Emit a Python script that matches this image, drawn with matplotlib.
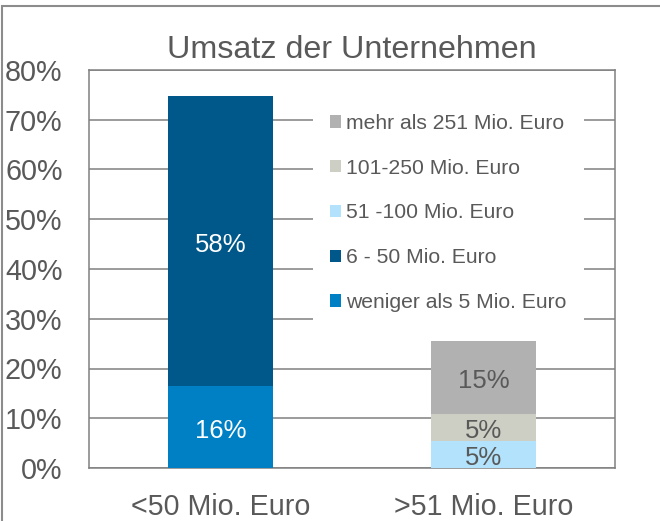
import numpy as np
import matplotlib
matplotlib.use("Agg")
import matplotlib.pyplot as plt
from matplotlib.patches import Rectangle

plt.rcParams['font.family'] = ['Liberation Sans', 'DejaVu Sans']

# data
categories = ['<50 Mio. Euro', '>51 Mio. Euro']
series_names = ['weniger als 5 Mio. Euro', '6 - 50 Mio. Euro', '51 -100 Mio. Euro',
                '101-250 Mio. Euro', 'mehr als 251 Mio. Euro']
weniger_5 = [16.4, 0]
mio_6_50 = [58.4, 0]
mio_51_100 = [0, 5.4]
mio_101_250 = [0, 5.4]
mehr_251 = [0, 14.7]
series_values = [weniger_5, mio_6_50, mio_51_100, mio_101_250, mehr_251]
colors = ['#0080c4', '#00578a', '#b3e3fc', '#cdcfc4', '#b1b1b1']
label_colors = ['white', 'white', '#595959', '#595959', '#595959']
yticks = [0, 10, 20, 30, 40, 50, 60, 70, 80]

txt = '#595959'
grid_c = '#808080'

fig = plt.figure(figsize=(6.6, 5.21), dpi=100)
ax = fig.add_axes([89/660, 1-468/521, (615-89)/660, (468-70)/521])

x = np.arange(len(categories))
bottom = np.zeros(len(categories))
for name, vals, c, lc in zip(series_names, series_values, colors, label_colors):
    vals = np.array(vals)
    bars = ax.bar(x, vals, width=0.4, bottom=bottom, color=c, label=name, zorder=3)
    labels = ['%d%%' % round(v) if v > 0 else '' for v in vals]
    for t in ax.bar_label(bars, labels=labels, label_type='center', color=lc, fontsize=18.5):
        t.xyann = (0, -2.5)  # sit a touch lower, like the original
    bottom += vals

ax.set_xlim(-0.5, 1.5)
ax.set_ylim(0, 80)
ax.set_yticks(yticks)
ax.set_yticklabels(['%d%%' % t for t in yticks])
ax.set_xticks(x)
ax.set_xticklabels(categories)
ax.tick_params(axis='y', length=0, pad=19, labelsize=20.7, labelcolor=txt)
ax.tick_params(axis='x', length=0, pad=18, labelsize=20.6, labelcolor=txt)
ax.yaxis.grid(True, color=grid_c, lw=1.1, zorder=0)
ax.set_axisbelow(True)
for s in ax.spines.values():
    s.set_color(grid_c)
    s.set_linewidth(1.1)

ax.set_title('Umsatz der Unternehmen', fontsize=23.2, color=txt, pad=8.5)

leg = ax.legend(reverse=True, loc='center', bbox_to_anchor=(448.5/660, 1-213/521),
                bbox_transform=fig.transFigure, fontsize=15.2, frameon=True,
                fancybox=False, framealpha=1, edgecolor='none', facecolor='white',
                handlelength=0.52, handleheight=0.52, handletextpad=0.25,
                labelspacing=1.22, borderpad=0.8)
leg.set_zorder(5)
for t in leg.get_texts():
    t.set_color(txt)

# outer chart border
fig.patches.append(Rectangle((2/660, -0.2), 1.2, 1-6/521+0.2, transform=fig.transFigure,
                             fill=False, edgecolor='#8c8c8c', lw=1.5, clip_on=False))

fig.savefig('out.png', dpi=100)
